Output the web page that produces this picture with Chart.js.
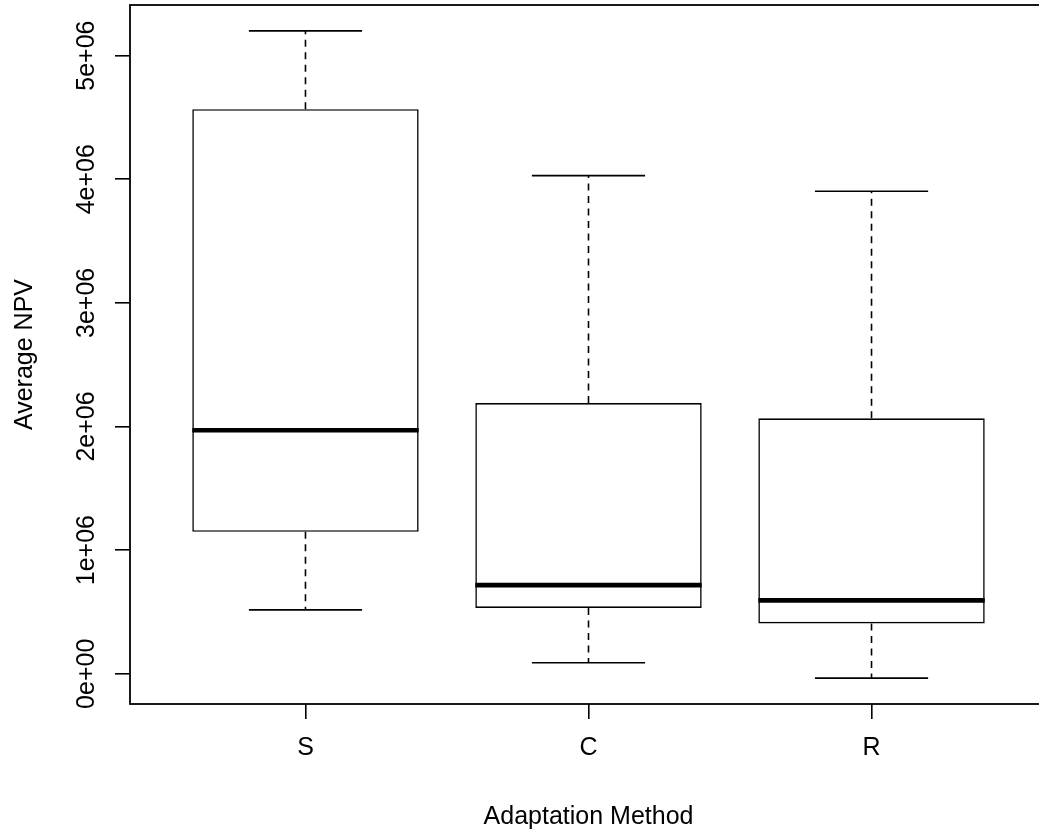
<!DOCTYPE html>
<html lang="en">
<head>
    <meta charset="UTF-8">
    <title>Average NPV by Adaptation Method</title>
    <style>
        html, body {
            margin: 0;
            padding: 0;
            background: #ffffff;
            overflow: hidden;
        }

        /* the plot frame runs a little past the right edge of the window */
        .chart-container {
            position: relative;
            width: 1060px;
            height: 830px;
        }
    </style>
</head>
<body>
    <div class="chart-container">
        <canvas id="boxChart"></canvas>
    </div>

    <script src="https://cdn.jsdelivr.net/npm/chart.js"></script>
    <script>
        // Box statistics per adaptation method
        const methods = ['S', 'C', 'R'];
        const whiskerLow = [517000, 89000, -35000];
        const lowerQuartile = [1148000, 533000, 407000];
        const median = [1970000, 717000, 593000];
        const upperQuartile = [4566000, 2190000, 2066000];
        const whiskerHigh = [5200000, 4029000, 3903000];

        const yTicks = [0, 1e6, 2e6, 3e6, 4e6, 5e6];
        const yTickLabels = ['0e+00', '1e+06', '2e+06', '3e+06', '4e+06', '5e+06'];

        const FONT_FAMILY = "'Liberation Sans', Arial, Helvetica, sans-serif";
        const FONT_SIZE = 25;
        const LINE = 1.6;

        const positions = methods.map((m, i) => i + 1);

        // axis limits padded by 4% like base R graphics
        const yLo = Math.min(...whiskerLow);
        const yHi = Math.max(...whiskerHigh);
        const yPad = (yHi - yLo) * 0.04;
        const xPad = methods.length * 0.04;

        // whiskers, staples, medians, frame and rotated y labels
        const boxParts = {
            id: 'boxParts',
            afterDatasetsDraw(chart) {
                const { ctx, chartArea, scales: { x, y } } = chart;
                const unit = x.getPixelForValue(1) - x.getPixelForValue(0);
                ctx.save();
                ctx.strokeStyle = '#000';
                ctx.lineCap = 'butt';

                positions.forEach((p, i) => {
                    const cx = x.getPixelForValue(p);

                    // dashed whiskers
                    ctx.lineWidth = LINE;
                    ctx.setLineDash([7, 5.5]);
                    ctx.beginPath();
                    ctx.moveTo(cx, y.getPixelForValue(upperQuartile[i]));
                    ctx.lineTo(cx, y.getPixelForValue(whiskerHigh[i]));
                    ctx.moveTo(cx, y.getPixelForValue(lowerQuartile[i]));
                    ctx.lineTo(cx, y.getPixelForValue(whiskerLow[i]));
                    ctx.stroke();

                    // staples
                    ctx.setLineDash([]);
                    ctx.beginPath();
                    [whiskerHigh[i], whiskerLow[i]].forEach(v => {
                        const py = y.getPixelForValue(v);
                        ctx.moveTo(cx - unit * 0.2, py);
                        ctx.lineTo(cx + unit * 0.2, py);
                    });
                    ctx.stroke();

                    // median
                    ctx.lineWidth = 4.7;
                    ctx.beginPath();
                    const my = y.getPixelForValue(median[i]);
                    ctx.moveTo(cx - unit * 0.4, my);
                    ctx.lineTo(cx + unit * 0.4, my);
                    ctx.stroke();
                });

                // plot frame
                ctx.lineWidth = 1.8;
                ctx.strokeRect(chartArea.left, chartArea.top,
                    chartArea.right - chartArea.left, chartArea.bottom - chartArea.top);
                ctx.restore();
            },
            afterDraw(chart) {
                const { ctx, scales: { y } } = chart;
                ctx.save();
                ctx.fillStyle = '#000';
                ctx.font = FONT_SIZE + 'px ' + FONT_FAMILY;
                ctx.textAlign = 'center';
                ctx.textBaseline = 'alphabetic';
                yTicks.forEach((v, i) => {
                    ctx.save();
                    ctx.translate(94, y.getPixelForValue(v));
                    ctx.rotate(-Math.PI / 2);
                    ctx.fillText(yTickLabels[i], 0, 0);
                    ctx.restore();
                });
                ctx.restore();
            }
        };

        const ctxBox = document.getElementById('boxChart').getContext('2d');

        new Chart(ctxBox, {
            type: 'bar',
            data: {
                datasets: [{
                    label: 'Average NPV',
                    data: positions.map((p, i) => ({ x: p, y: [lowerQuartile[i], upperQuartile[i]] })),
                    backgroundColor: '#ffffff',
                    borderColor: '#000000',
                    borderWidth: LINE,
                    borderSkipped: false,
                    barPercentage: 1,
                    categoryPercentage: 0.8
                }]
            },
            options: {
                responsive: true,
                maintainAspectRatio: false,
                animation: false,
                layout: {
                    padding: { top: 5, right: 13, left: 0, bottom: 0 }
                },
                plugins: {
                    legend: { display: false },
                    tooltip: { enabled: false }
                },
                scales: {
                    x: {
                        type: 'linear',
                        offset: false,
                        min: 0.5 - xPad,
                        max: methods.length + 0.5 + xPad,
                        afterBuildTicks: (scale) => {
                            scale.ticks = positions.map(v => ({ value: v }));
                        },
                        afterFit: (scale) => {
                            scale.height = 126;
                        },
                        border: { display: false },
                        grid: {
                            offset: false,
                            drawOnChartArea: false,
                            drawTicks: true,
                            tickLength: 15,
                            color: '#000',
                            lineWidth: LINE
                        },
                        ticks: {
                            autoSkip: false,
                            maxRotation: 0,
                            padding: 14,
                            color: '#000',
                            font: { family: FONT_FAMILY, size: FONT_SIZE },
                            callback: (value) => methods[value - 1]
                        },
                        title: {
                            display: true,
                            text: 'Adaptation Method',
                            color: '#000',
                            font: { family: FONT_FAMILY, size: FONT_SIZE },
                            padding: { top: 0, bottom: -2 }
                        }
                    },
                    y: {
                        min: yLo - yPad,
                        max: yHi + yPad,
                        afterBuildTicks: (scale) => {
                            scale.ticks = yTicks.map(v => ({ value: v }));
                        },
                        afterFit: (scale) => {
                            scale.width = 130;
                        },
                        border: { display: false },
                        grid: {
                            drawOnChartArea: false,
                            drawTicks: true,
                            tickLength: 15,
                            color: '#000',
                            lineWidth: LINE
                        },
                        ticks: { display: false },
                        title: {
                            display: true,
                            text: 'Average NPV',
                            color: '#000',
                            font: { family: FONT_FAMILY, size: FONT_SIZE },
                            padding: { top: 10, bottom: 0 }
                        }
                    }
                }
            },
            plugins: [boxParts]
        });
    </script>
</body>
</html>
